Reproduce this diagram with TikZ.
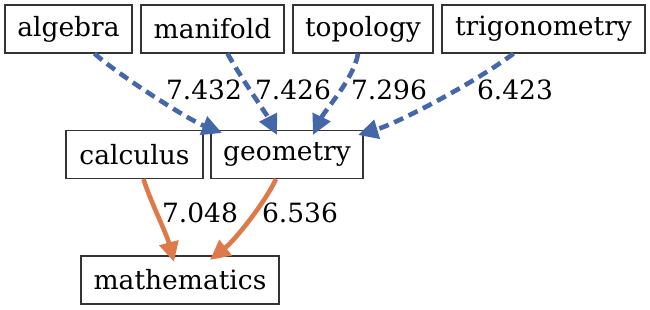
\documentclass[tikz,border=0pt]{standalone}
\usepackage{fontspec}
\setmainfont{DejaVu Serif}
\usetikzlibrary{arrows.meta}
\definecolor{eblue}{HTML}{4467AA}
\definecolor{eorange}{HTML}{DE7A4A}
\definecolor{boxline}{HTML}{333333}
\begin{document}
\begin{tikzpicture}[x=1pt,y=-1pt,
  box/.style={draw=boxline,line width=1.2pt,fill=white,inner sep=0pt,minimum height=48pt,font=\fontsize{26.5}{30}\selectfont},
  lbl/.style={font=\fontsize{26.5}{30}\selectfont,inner sep=0pt},
  dashedge/.style={draw=eblue,line width=4.6pt,dash pattern=on 10pt off 6pt,-{Triangle[length=20pt,width=19pt,fill=eblue]}},
  solidedge/.style={draw=eorange,line width=4.6pt,-{Triangle[length=20pt,width=19pt,fill=eorange]}}]
\useasboundingbox (0,0) rectangle (650,309);
\node[box,minimum width=127pt] (algebra) at (68.5,29) {algebra};
\node[box,minimum width=143pt] (manifold) at (212.5,29) {manifold};
\node[box,minimum width=140pt] (topology) at (363,29) {topology};
\node[box,minimum width=203pt] (trig) at (543.5,29) {trigonometry};
\node[box,minimum width=137pt] (calculus) at (134.5,154.5) {calculus};
\node[box,minimum width=152pt] (geometry) at (287,154.5) {geometry};
\node[box,minimum width=198pt] (math) at (180,280) {mathematics};
\coordinate (gA) at (222,133);
\coordinate (gM) at (277,135);
\coordinate (gT) at (313,135);
\coordinate (gR) at (358,135);
\coordinate (mC) at (174,262);
\coordinate (mG) at (210,260);
\draw[dashedge] (algebra.south) ++(26,0) .. controls +(25,22) and +(-35,-14) .. (gA);
\draw[dashedge] (manifold.south) ++(15,0) .. controls +(12,22) and +(-10,-20) .. (gM);
\draw[dashedge] (topology.south) ++(-5,0) .. controls +(-4,25) and +(12,-25) .. (gT);
\draw[dashedge] (trig.south) ++(-30,0) .. controls +(-40,30) and +(40,-12) .. (gR);
\draw[solidedge] (calculus.south) ++(9,0) .. controls +(8,25) and +(-8,-30) .. (mC);
\draw[solidedge] (geometry.south) ++(-11,0) .. controls +(-12,25) and +(25,-20) .. (mG);
\node[lbl] (l1) at (204,90) {7.432};
\node[lbl] (l2) at (293,90) {7.426};
\node[lbl] (l3) at (389,90) {7.296};
\node[lbl] (l4) at (515,90) {6.423};
\node[lbl] (l5) at (200,213) {7.048};
\node[lbl] (l6) at (300,213) {6.536};
\end{tikzpicture}
\end{document}
